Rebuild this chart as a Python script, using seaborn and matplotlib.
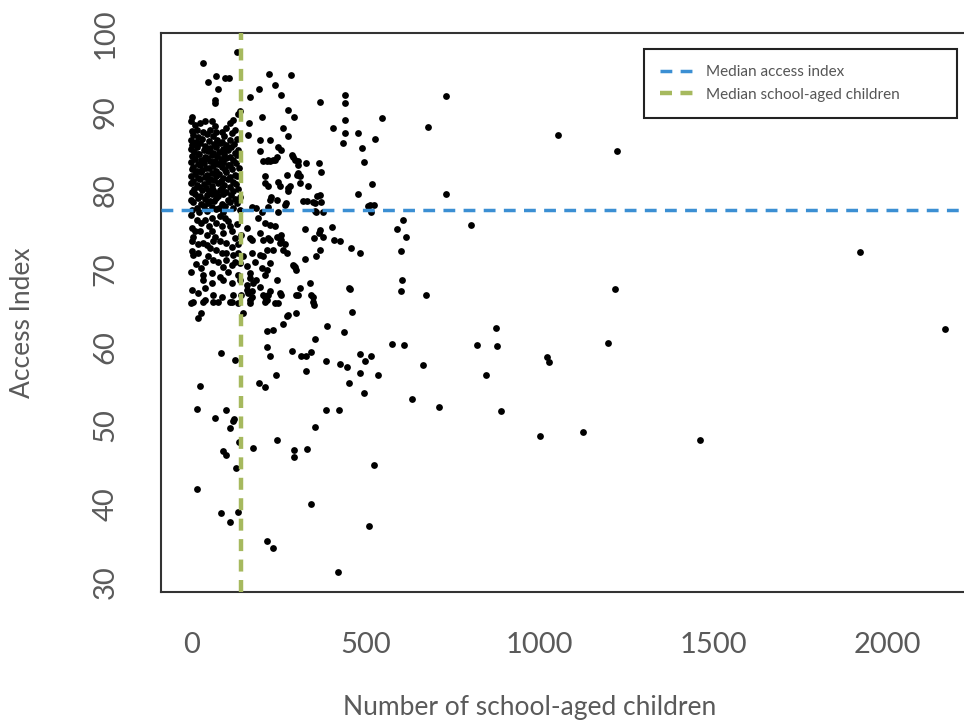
import numpy as np
import pandas as pd
import seaborn as sns
import matplotlib.pyplot as plt
from matplotlib.lines import Line2D

# dense block of small schools, rows from top to bottom
core_children = [5, 20, 45, 62, 95, 118,
                 0, 12, 30, 52, 75, 88, 110, 130,
                 3, 25, 40, 66, 82, 100, 122,
                 0, 15, 35, 55, 70, 92, 115, 135,
                 8, 22, 48, 62, 80, 105, 125,
                 2, 18, 38, 58, 75, 95, 112, 130,
                 10, 28, 45, 68, 85, 100, 120,
                 0, 20, 35, 55, 78, 92, 110, 128,
                 6, 25, 42, 62, 88, 105, 138,
                 2, 15, 32, 50, 70, 96, 118,
                 10, 28, 45, 60, 80, 100, 125,
                 0, 18, 38, 55, 72, 90, 112, 132,
                 5, 25, 48, 65, 85, 105, 120,
                 0, 15, 35, 58, 78, 95, 128,
                 8, 22, 42, 62, 88, 110, 135,
                 2, 30, 50, 70, 82, 100, 120,
                 10, 25, 45, 60, 78, 92, 115, 140,
                 0, 18, 38, 55, 72, 105, 125,
                 5, 28, 48, 65, 88, 110, 132,
                 15, 35, 58, 80, 98, 120,
                 2, 22, 45, 70, 92, 140]
core_access = [87.1, 86.8, 87.2, 86.9, 87.0, 87.3,
               86.5, 86.2, 86.6, 86.3, 86.5, 86.2, 86.4, 86.6,
               85.8, 86.0, 85.7, 85.9, 86.1, 85.8, 85.9,
               85.3, 85.5, 85.2, 85.4, 85.6, 85.3, 85.5, 85.2,
               84.9, 84.7, 85.0, 84.8, 84.9, 85.1, 84.8,
               84.4, 84.6, 84.3, 84.5, 84.4, 84.6, 84.3, 84.5,
               84.0, 83.9, 84.1, 83.8, 84.0, 84.1, 83.9,
               83.6, 83.4, 83.5, 83.7, 83.4, 83.6, 83.3, 83.5,
               83.0, 83.2, 82.9, 83.1, 83.0, 83.2, 82.9,
               82.7, 82.5, 82.6, 82.8, 82.5, 82.6, 82.7,
               82.1, 82.3, 82.0, 82.2, 82.1, 82.3, 82.0,
               81.8, 81.6, 81.7, 81.5, 81.8, 81.6, 81.7, 81.9,
               81.2, 81.4, 81.1, 81.3, 81.2, 81.4, 81.1,
               80.9, 80.7, 80.8, 80.6, 80.9, 80.7, 80.8,
               80.2, 80.4, 80.3, 80.1, 80.3, 80.4, 80.2,
               79.8, 80.0, 79.9, 79.7, 80.0, 79.8, 79.9,
               79.5, 79.3, 79.4, 79.6, 79.3, 79.5, 79.4, 79.2,
               78.8, 79.0, 78.9, 78.7, 79.0, 78.8, 78.9,
               78.5, 78.3, 78.4, 78.6, 78.3, 78.5, 78.4,
               77.8, 78.0, 77.9, 77.7, 78.0, 77.8,
               77.5, 77.3, 77.4, 77.6, 77.3, 77.5]

top_children = [1, 0, 10, 24, 39, 58, 67, 111, 120, 134,
                139, 1, 15, 34, 53, 72, 87, 101, 125, 67,
                67, 34, 48, 70, 96, 107, 77, 132]
top_access = [89.4, 88.8, 88.4, 88.6, 88.8, 88.8, 88.2, 88.6, 89.0, 89.7,
              90.1, 87.6, 87.7, 87.5, 87.7, 87.4, 87.5, 88.0, 87.7, 91.6,
              91.1, 96.3, 93.8, 94.6, 94.3, 94.3, 93.0, 97.7]

low_children = [0, 15, 39, 58, 72, 87, 96, 111, 116, 125, 144, 173, 187, 192, 211, 159, 168, 206,
                1, 10, 24, 44, 58, 68, 82, 101, 116, 134,
                1, 20, 34, 53, 72, 87, 101, 120, 134, 149, 173, 197, 216,
                2, 5, 20, 48, 63, 77, 101, 116, 139, 159, 182, 202,
                0, 29, 34, 58, 82, 106, 134, 168,
                34, 58, 91, 116, 139, 159, 187,
                2, 20, 39, 63, 87, 120, 144, 159, 173, 206,
                5, 34, 63, 111, 134, 168,
                28, 50, 82, 104, 6, 130, 45, 92, 62, 14, 40, 92, 125]
low_access = [76.9, 76.2, 76.2, 76.5, 75.8, 75.4, 76.5, 75.4, 74.8, 73.9, 74.3, 77.9, 77.7, 76.5, 75.8, 75.2, 73.9, 73.7,
              75.2, 74.8, 74.8, 74.3, 74.8, 74.1, 73.5, 73.3, 72.8, 73.1,
              73.5, 73.1, 73.3, 72.6, 72.4, 72.0, 72.0, 71.8, 72.0, 71.6, 72.0, 71.8, 72.4,
              72.2, 71.8, 72.0, 71.6, 71.1, 70.9, 71.1, 70.5, 70.7, 70.3, 70.9, 70.1,
              69.6, 70.1, 69.2, 69.4, 69.0, 69.6, 69.2, 69.4,
              68.6, 68.2, 68.6, 68.2, 68.6, 67.9, 68.6,
              67.3, 66.9, 67.5, 66.7, 66.4, 66.7, 66.7, 67.3, 67.1, 66.7,
              65.8, 65.8, 65.8, 65.8, 65.6, 65.6,
              75.9, 75.5, 76.7, 76.1, 74.1, 75.7, 73.0, 74.6, 73.6, 70.6, 70.8, 70.2, 70.9]

mid_children = [224, 286, 240, 193, 168, 259, 278, 295, 202,
                369, 441, 441, 441, 441, 436, 406,
                264, 278, 249, 259, 293, 307, 328, 367, 373,
                357, 379, 369, 373, 350, 336, 305, 312, 274, 278, 272, 249, 254, 245, 249,
                226, 221, 202, 211, 221, 211, 216, 226, 235, 197, 206, 197, 226, 163, 166,
                326, 352, 367, 377, 403, 409, 427, 460, 484, 452,
                457, 463, 352, 349, 340, 326, 357, 369, 295, 293,
                175, 197, 226, 245, 259, 226, 206, 235, 264, 274,
                226, 168, 178, 197, 211, 216, 245, 254, 240, 163, 173, 278, 302, 302, 312,
                221, 240, 245, 288, 297, 307, 307, 312, 283, 278, 360,
                321, 331, 355, 230, 269, 355, 508, 240, 369, 219,
                259, 254, 269, 297, 302, 216, 211, 307, 344, 349, 226, 221, 259, 249]
mid_access = [94.9, 94.7, 93.4, 92.9, 91.9, 92.2, 90.3, 89.4, 89.4,
              91.3, 92.2, 91.1, 89.0, 87.3, 86.0, 88.0,
              88.0, 86.9, 85.6, 85.2, 84.3, 83.7, 83.5, 83.5, 82.3,
              77.3, 77.3, 79.4, 78.5, 78.5, 80.5, 82.0, 80.9, 82.0, 80.3, 78.4, 81.1, 80.5, 78.8, 77.3,
              78.8, 77.9, 77.3, 80.9, 80.5, 81.8, 83.7, 83.7, 83.9, 85.0, 83.7, 86.5, 86.5, 87.1, 88.6,
              75.1, 73.9, 74.5, 74.0, 75.3, 73.7, 73.6, 72.6, 72.0, 67.6,
              67.4, 64.5, 65.4, 66.4, 68.2, 71.2, 71.6, 72.4, 70.3, 70.5,
              73.7, 74.5, 73.7, 74.1, 73.7, 75.6, 71.6, 72.4, 72.4, 72.0,
              70.7, 68.8, 68.2, 67.7, 66.4, 66.0, 68.6, 66.9, 65.6, 66.9, 66.4, 64.1, 64.3, 66.7, 67.5,
              83.9, 83.9, 84.3, 84.5, 83.9, 83.3, 82.2, 81.8, 80.5, 79.9, 79.3,
              78.7, 78.6, 78.4, 79.2, 78.2, 77.4, 78.0, 75.4, 75.0, 73.9,
              74.3, 73.3, 73.1, 70.2, 69.9, 69.9, 69.2, 66.7, 66.7, 65.8, 67.1, 66.7, 66.7, 65.6]

bottom_children = [0, 39, 77, 116, 168, 211,
                   29, 20, 147, 274, 262, 218, 235, 391, 439, 355,
                   577, 218, 227, 288, 316, 329, 345, 85, 125, 386,
                   427, 446, 484, 499, 515, 329, 243, 484, 537, 453,
                   497, 195, 211, 24, 15, 99, 68, 122, 120, 111,
                   386, 425, 354, 136, 178, 247, 90, 99, 295, 295,
                   331, 128, 524, 17, 345, 86, 134, 110, 509, 218,
                   235, 420]
bottom_access = [65.6, 66.0, 65.8, 65.7, 66.0, 65.8,
                 64.4, 63.7, 64.4, 64.0, 63.0, 62.1, 62.2, 62.7, 61.9, 61.0,
                 60.4, 60.0, 58.8, 59.5, 58.8, 58.8, 59.4, 59.3, 58.3, 58.2,
                 57.8, 57.5, 59.1, 58.2, 58.9, 56.9, 56.4, 56.7, 56.4, 55.4,
                 54.1, 55.4, 54.9, 55.0, 52.1, 51.9, 51.0, 50.8, 50.6, 49.6,
                 52.0, 52.0, 49.8, 47.9, 47.1, 48.1, 46.7, 46.2, 46.9, 45.9,
                 47.0, 44.5, 45.0, 41.9, 39.9, 38.8, 38.9, 37.7, 37.1, 35.2,
                 34.4, 31.3]

far_children = [547, 733, 1054, 681, 480, 527, 490, 496, 519, 480,
                731, 513, 525, 515, 609, 591, 618, 803, 603, 604,
                602, 673, 612, 666, 634, 712, 820, 875, 877, 846,
                891, 1021, 1027, 1001, 1126, 1198, 1461, 2165, 1222, 1921,
                1218]
far_access = [89.3, 92.1, 87.1, 88.1, 87.3, 86.6, 85.4, 83.6, 80.8, 79.5,
              79.5, 78.1, 78.2, 77.3, 76.2, 75.1, 74.0, 75.6, 72.2, 68.5,
              67.1, 66.6, 60.2, 57.7, 53.4, 52.3, 60.3, 62.4, 60.1, 56.4,
              51.8, 58.7, 58.1, 48.6, 49.1, 60.5, 48.1, 62.3, 85.0, 72.1,
              67.4]

median_access = 77.5
median_children = 142

x_ticks = [0, 500, 1000, 1500, 2000]
y_ticks = [30, 40, 50, 60, 70, 80, 90, 100]

df = pd.DataFrame({
    "children": core_children + top_children + low_children + mid_children + bottom_children + far_children,
    "access": core_access + top_access + low_access + mid_access + bottom_access + far_access,
})

sns.set_style("white")
plt.rcParams["font.family"] = ["Lato", "DejaVu Sans"]

blue = "#3b8fd3"
green = "#a6b95e"
txt = "#5a5a5a"

fig = plt.figure(figsize=(9.64, 7.22), dpi=100)
# plot region runs past the right edge, like the cropped original
ax = fig.add_axes([161.4 / 964, 1 - 591.7 / 722, 813.8 / 964, 558.7 / 722])

sns.scatterplot(data=df, x="children", y="access", color="black", s=24,
                linewidth=0, ax=ax, zorder=2)
ax.axhline(median_access, color=blue, lw=2.5, ls=(0, (3.4, 2.4)), zorder=3)
ax.axvline(median_children, color=green, lw=3.2, ls=(0, (2.7, 1.9)), zorder=3)

ax.set_xlim(-86, 2252)
ax.set_ylim(28.76, 100.1)
ax.set_xticks(x_ticks)
ax.set_yticks(y_ticks)
for sp in ax.spines.values():
    sp.set_visible(True)
    sp.set_color("#333333")
    sp.set_linewidth(1.5)
ax.tick_params(direction="out", length=14, width=1.5, color="#333333",
               labelsize=21, labelcolor=txt, pad=15)
ax.tick_params(axis="y", pad=17)
for lab in ax.get_yticklabels():
    lab.set_rotation(90)
    lab.set_va("center")

ax.set_xlabel("Number of school-aged children", fontsize=19, color=txt)
ax.set_ylabel("Access Index", fontsize=19, color=txt)
ax.xaxis.set_label_coords((530 - 161.4) / 813.8, (591.7 - 708) / 558.7)
ax.yaxis.set_label_coords((23 - 161.4) / 813.8, (591.7 - 323) / 558.7)
ax.xaxis.label.set_va("center")
ax.yaxis.label.set_va("center")

handles = [Line2D([], [], color=blue, lw=2.5, ls=(0, (3.4, 2.4))),
           Line2D([], [], color=green, lw=3.2, ls=(0, (2.7, 1.9)))]
leg = ax.legend(handles, ["Median access index", "Median school-aged children"],
                loc="upper left", bbox_to_anchor=(644 / 964, 1 - 49 / 722, 313 / 964, 0),
                bbox_transform=fig.transFigure, mode="expand", borderaxespad=0,
                fontsize=11, frameon=True, fancybox=False, edgecolor="#222222",
                framealpha=1, borderpad=1.07, labelspacing=0.54, handlelength=2.15,
                handletextpad=0.83)
leg.get_frame().set_linewidth(1.5)
for t in leg.get_texts():
    t.set_color("#555555")

fig.savefig("out.png", dpi=100)
